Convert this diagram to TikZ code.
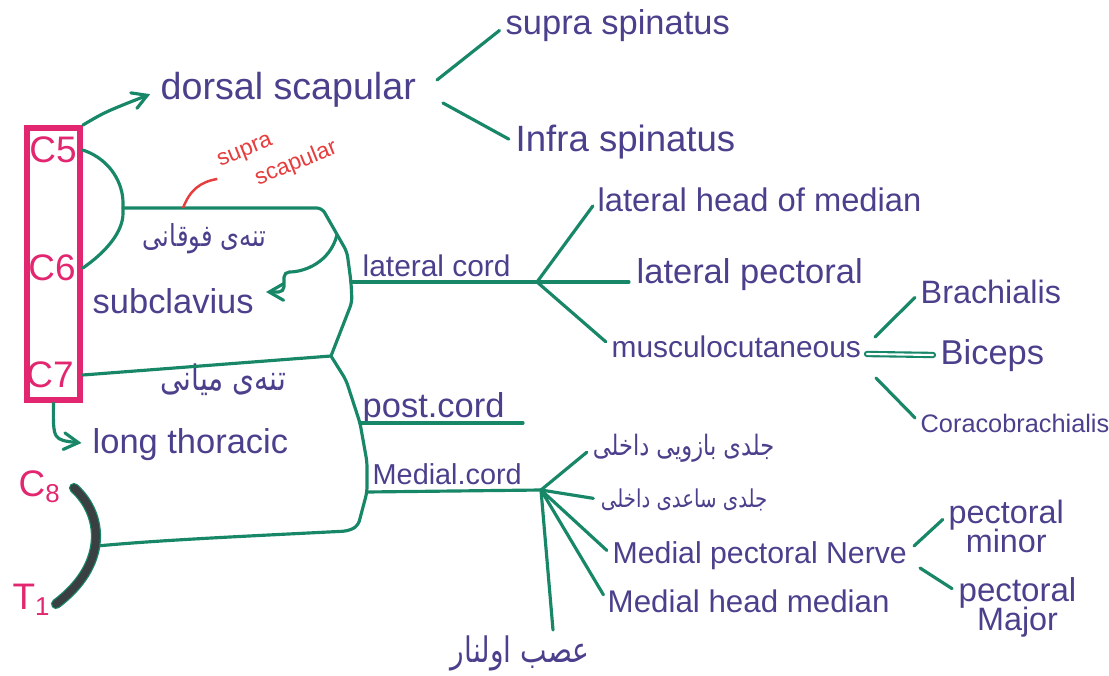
\documentclass[tikz,border=0pt]{standalone}
\usepackage{fontspec}
\setmainfont{Liberation Sans}
\newfontfamily\farsi[Script=Arabic, FakeStretch=0.8]{DejaVu Sans}
\TeXXeTstate=1
\usetikzlibrary{positioning, arrows}
\definecolor{ink}{RGB}{74,64,140}
\definecolor{nervegreen}{RGB}{24,135,104}
\definecolor{rootpink}{RGB}{226,38,112}
\definecolor{notered}{RGB}{230,62,62}
\definecolor{arcgray}{RGB}{58,64,66}
\tikzset{
>=angle 60, % open arrow heads, like the pen strokes
nerve/.style={draw=nervegreen, line width=0.9pt, line cap=round, rounded corners=1.5pt}, % a nerve line
branch/.style={nerve, shorten >=2pt}, % a branch that stops just short of its label
lbl/.style={text=ink, inner sep=0pt, anchor=base west, font=\fontsize{9.8}{11}\selectfont}, % a nerve or muscle name
fa/.style={text=ink, inner sep=0pt, anchor=base east, font=\farsi\fontsize{8}{10}\selectfont}, % a Persian name
root/.style={text=rootpink, inner sep=0pt, font=\fontsize{10.5}{12}\selectfont}, % a spinal root
rootbox/.style={draw=rootpink, line width=1.6pt, inner sep=0pt, minimum width=0.53cm, minimum height=2.72cm},
rootarc/.style={draw=arcgray, line width=2.2pt, line cap=round, preaction={draw=nervegreen, line width=2.9pt, line cap=round}},
note/.style={text=notered, inner sep=0pt, align=left, font=\fontsize{6.5}{9}\selectfont, rotate=22}, % the red side note
}
\begin{document}
\begin{tikzpicture}[x=0.01cm, y=-0.01cm]
        \useasboundingbox (0,0) rectangle (1109,676);

        % roots
        \node[rootbox] (roots) at (53.5,264) {};
        \node[root] (c5) at (53,150) {C5};
        \node[root] (c6) at (52,268) {C6};
        \node[root] (c7) at (50,375) {C7};
        \node[root] (c8) at (40,487) {C\textsubscript{8}};
        \node[root] (t1) at (32,600) {T\textsubscript{1}};

        % names
        \node[lbl, font=\fontsize{10.7}{12}\selectfont] (dsc) at (160,100) {dorsal scapular};
        \node[lbl] (ssp) at (505,35) {supra spinatus};
        \node[lbl, font=\fontsize{10.4}{12}\selectfont] (isp) at (515,152) {Infra spinatus};
        \node[fa, font=\farsi\fontsize{8.6}{10}\selectfont] (utk) at (267,247) {\beginR تنه‌ی فوقانی\endR};
        \node[lbl] (scl) at (92,313) {subclavius};
        \node[fa, font=\farsi\fontsize{10}{12}\selectfont] (mtk) at (287,390) {\beginR تنه‌ی میانی\endR};
        \node[lbl] (lth) at (92,453) {long thoracic};
        \node[note] (ssc) at (278,156) {supra\\\hspace*{8pt}scapular};
        \node[lbl, font=\fontsize{8.5}{10}\selectfont] (lco) at (362,276) {lateral cord};
        \node[lbl] (pco) at (362,417) {post.cord};
        \node[lbl, font=\fontsize{8.2}{10}\selectfont] (mco) at (372,484) {Medial.cord};
        \node[lbl, font=\fontsize{9.3}{11}\selectfont] (lhm) at (597,212) {lateral head of median};
        \node[lbl] (lpec) at (636,284) {lateral pectoral};
        \node[lbl, font=\fontsize{8.5}{10}\selectfont] (mcu) at (611,357) {musculocutaneous};
        \node[lbl, font=\fontsize{9.2}{11}\selectfont] (br) at (920,304) {Brachialis};
        \node[lbl] (bic) at (940,364) {Biceps};
        \node[lbl, font=\fontsize{7.2}{9}\selectfont] (cb) at (920,432) {Coracobrachialis};
        \node[fa] (cbr) at (775,455) {\beginR جلدی بازویی داخلی\endR};
        \node[fa, font=\farsi\fontsize{7}{9}\selectfont] (cfa) at (768,507) {\beginR جلدی ساعدی داخلی\endR};
        \node[lbl, font=\fontsize{8.6}{10}\selectfont] (mpn) at (612,563) {Medial pectoral Nerve};
        \node[lbl, font=\fontsize{8.9}{10}\selectfont] (mhm) at (607,612) {Medial head median};
        \node[fa, font=\farsi\fontsize{10}{12}\selectfont] (uln) at (590,662) {\beginR عصب اولنار\endR};
        \node[lbl, font=\fontsize{9.2}{11}\selectfont] (pmin) at (948,523) {pectoral};
        \node[lbl, font=\fontsize{9.2}{11}\selectfont, anchor=base] (pmin2) at ([yshift=-8.5pt]pmin.base) {minor};
        \node[lbl, font=\fontsize{9.4}{11}\selectfont] (pmaj) at (958,601) {pectoral};
        \node[lbl, font=\fontsize{9.2}{11}\selectfont, anchor=base] (pmaj2) at ([yshift=-8.5pt]pmaj.base) {Major};

        % junctions
        \coordinate (ut) at (123,208);
        \coordinate (lc) at (351,282);
        \coordinate (mt) at (331,356);
        \coordinate (pc) at (360,423);
        \coordinate (mc) at (367,492);
        \coordinate (lt) at (97,546);
        \coordinate (lcfork) at (537,282);
        \coordinate (pcend) at (523,423);
        \coordinate (mcfork) at (541,490);
        \coordinate (ulend) at (553,630);
        \coordinate (dsfork1) at (437,80);
        \coordinate (dsfork2) at (443,103);
        \coordinate (mufork1) at (875,337);
        \coordinate (mufork2) at (867,354);
        \coordinate (mufork3) at (876,378);
        \coordinate (mpfork1) at (914,546);
        \coordinate (mpfork2) at (920,568);
        \coordinate (sctap) at (337,235);
        \coordinate (scbend) at (284,272);
        \coordinate (sccorner) at (284,292);
        \coordinate (sctip) at (266,292);
        \coordinate (sscfoot) at (183,208);

        % trunks
        \draw[nerve] (roots.east |- c5) .. controls (112,160) and (123,185) .. (ut)
                .. controls (123,232) and (106,252) .. (roots.east |- c6);
        \draw[nerve] (ut) -- (322,208) -- (347,252) -- (lc) -- (352,302) -- (mt);
        \draw[nerve] (roots.east |- c7) -- (mt);
        \draw[nerve] (mt) -- (346,380) -- (pc) -- (367,462) -- (mc) -- (358,526) -- (348,531)
                .. controls (250,536) and (160,540) .. (lt);
        \draw[rootarc] (74,488) .. controls (104,515) and (108,565) .. (56,604);

        % cords
        \draw[nerve] (lc) -- (lcfork);
        \draw[nerve] (pc) -- (pcend);
        \draw[nerve] (mc) -- (mcfork);

        % branches
        \draw[nerve, ->, shorten >=3pt] (roots.north east) .. controls (105,112) .. (dsc.west);
        \draw[branch] (dsfork1) -- (ssp.west);
        \draw[branch] (dsfork2) -- (isp.west);
        \draw[nerve, ->, shorten >=3pt] (roots.south) .. controls (53,440) .. (lth.west);
        \draw[nerve, ->] (sctap) .. controls (330,262) and (305,272) .. (scbend) -- (sccorner) -- (sctip);
        \draw[notered, line width=0.7pt, shorten >=2pt] (sscfoot) .. controls (190,190) and (200,182) .. (ssc.west);
        \draw[branch] (lcfork) edge (lhm.west) edge (lcfork -| lpec.west) edge (mcu.west);
        \draw[branch] (mufork1) -- (br.west);
        \draw[branch, line width=0.6pt, double=white, double distance=0.6pt] (mufork2) -- (bic.west);
        \draw[branch] (mufork3) -- (cb.west);
        \draw[branch] (mcfork) edge (cbr.west) edge (cfa.west) edge (mpn.west) edge (mhm.west);
        \draw[nerve] (mcfork) -- (ulend);
        \draw[branch] (mpfork1) -- (pmin.west);
        \draw[branch] (mpfork2) -- (pmaj.west);
\end{tikzpicture}
\end{document}
